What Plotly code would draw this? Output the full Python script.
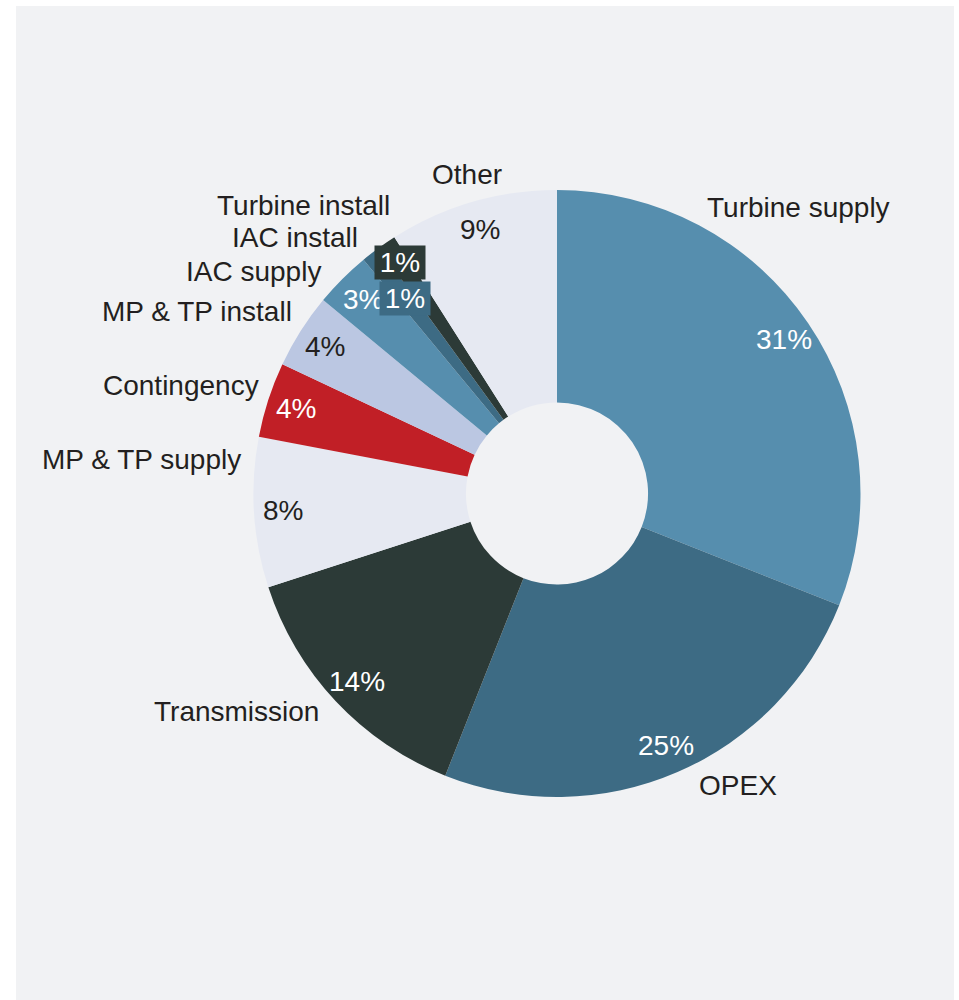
import math
import plotly.graph_objects as go

# Cost breakdown of an offshore wind project (share of lifetime cost, %)
categories = [
    "Turbine supply", "OPEX", "Transmission", "MP & TP supply", "Contingency",
    "MP & TP install", "IAC supply", "IAC install", "Turbine install", "Other",
]
shares = [31, 25, 14, 8, 4, 4, 3, 1, 1, 9]

slice_colors = [
    "#568eae", "#3d6b84", "#2c3a37", "#e6e9f2", "#c11f26",
    "#bbc7e2", "#568eae", "#3d6b84", "#2c3a37", "#e6e9f2",
]
pct_colors = [
    "white", "white", "white", "#231f20", "white",
    "#231f20", "white", "white", "white", "#231f20",
]
# slices whose small percentage labels sit on a filled tag
tagged = {"IAC install", "Turbine install"}

# ---- canvas / pie geometry (pixels) ----
W, H = 959, 1000
CX, CY, R = 557, 493.5, 303.5
HOLE = 0.30
FONT = "Liberation Sans, Arial, sans-serif"
FS = 28
TEXT = "#231f20"
PANEL = "#f1f2f4"

# radial position of percentage labels, as a fraction of the radius
pct_radius = {c: 0.905 for c in categories}
pct_radius["IAC install"] = 0.815
pct_radius["Turbine install"] = 0.92

# outer category labels: (angle clockwise from 12 o'clock in deg, radius px, anchor)
name_pos = {
    "Turbine supply": (27.4, 322, "left"),
    "OPEX": (154.4, 324, "left"),
    "Transmission": (227.3, 321, "right"),
    "MP & TP supply": (276.2, 316, "right"),
    "Contingency": (290.0, 315, "right"),
    "MP & TP install": (304.6, 320, "right"),
    "IAC supply": (313.5, 323, "right"),
    "IAC install": (322.4, 323, "right"),
    "Turbine install": (330.2, 332, "right"),
    "Other": (344.3, 331, "center"),
}


def to_paper(ang_deg, r):
    a = math.radians(ang_deg)
    px = CX + r * math.sin(a)
    py = CY - r * math.cos(a)
    return px / W, 1 - py / H


fig = go.Figure()
fig.add_trace(go.Pie(
    labels=categories,
    values=shares,
    sort=False,
    direction="clockwise",
    rotation=0,
    hole=HOLE,
    marker=dict(colors=slice_colors, line=dict(width=0)),
    textinfo="none",
    hovertemplate="%{label}: %{value}%<extra></extra>",
    showlegend=False,
    domain=dict(x=[(CX - R) / W, (CX + R) / W], y=[1 - (CY + R) / H, 1 - (CY - R) / H]),
))

annotations = []
total = sum(shares)
cum = 0
for cat, val, col, tcol in zip(categories, shares, slice_colors, pct_colors):
    mid = (cum + val / 2) / total * 360
    cum += val
    x, y = to_paper(mid, R * pct_radius[cat])
    ann = dict(
        x=x, y=y, xref="paper", yref="paper", text=f"{val}%", showarrow=False,
        xanchor="center", yanchor="middle",
        font=dict(family=FONT, size=FS, color=tcol),
    )
    if cat in tagged:
        ann.update(bgcolor=col, borderpad=0, width=50, height=33)
    annotations.append(ann)

for cat in categories:
    ang, r, anchor = name_pos[cat]
    x, y = to_paper(ang, r)
    annotations.append(dict(
        x=x, y=y, xref="paper", yref="paper", text=cat, showarrow=False,
        xanchor=anchor, yanchor="middle",
        font=dict(family=FONT, size=FS, color=TEXT),
    ))

fig.update_layout(
    width=W, height=H,
    margin=dict(l=0, r=0, t=0, b=0),
    paper_bgcolor="white",
    plot_bgcolor="white",
    shapes=[dict(
        type="rect", xref="paper", yref="paper",
        x0=16 / W, x1=954 / W, y0=0, y1=1 - 6 / H,
        fillcolor=PANEL, line=dict(width=0), layer="below",
    )],
    annotations=annotations,
)

fig.write_html("out.html")
